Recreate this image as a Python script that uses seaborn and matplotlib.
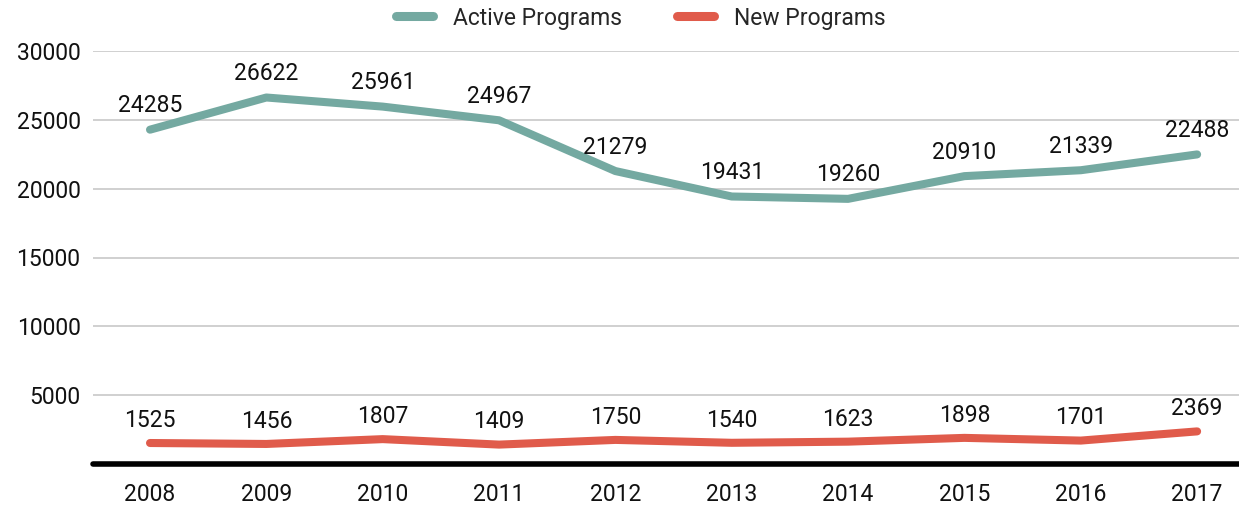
import matplotlib
matplotlib.use("Agg")
import matplotlib.pyplot as plt
import seaborn as sns
import pandas as pd

years = ["2008", "2009", "2010", "2011", "2012", "2013", "2014", "2015", "2016", "2017"]
active = [24285, 26622, 25961, 24967, 21279, 19431, 19260, 20910, 21339, 22488]
new = [1525, 1456, 1807, 1409, 1750, 1540, 1623, 1898, 1701, 2369]
series_names = ["Active Programs", "New Programs"]
yticks = [5000, 10000, 15000, 20000, 25000, 30000]

sns.set_style("white")
plt.rcParams['font.family'] = ['Roboto', 'DejaVu Sans']

FS = 16.5

df = pd.DataFrame({
    "Year": years * 2,
    "Value": active + new,
    "Series": [series_names[0]] * len(years) + [series_names[1]] * len(years),
})
df["x"] = list(range(len(years))) * 2

fig = plt.figure(figsize=(12.39, 5.08), dpi=100)
ax = fig.add_axes([93 / 1239, 1 - 464 / 508, 1 - 93 / 1239, (464 - 51) / 508])

colors = {"Active Programs": "#74a9a1", "New Programs": "#e05b4b"}
sns.lineplot(data=df, x="x", y="Value", hue="Series", palette=colors, ax=ax,
             linewidth=5.8, solid_capstyle="round", solid_joinstyle="round", legend=True)

for i, v in enumerate(active):
    ax.annotate(str(v), (i, v), xytext=(0, 9), textcoords="offset points",
                ha="center", va="bottom", fontsize=FS, color="#111111")
for i, v in enumerate(new):
    ax.annotate(str(v), (i, v), xytext=(0, 8), textcoords="offset points",
                ha="center", va="bottom", fontsize=FS, color="#111111")

ax.set_xlim(-0.49, 9.36)
ax.set_ylim(0, 30000)
ax.set_yticks(yticks)
ax.set_yticklabels([str(t) for t in yticks])
ax.set_xticks(range(len(years)))
ax.set_xticklabels(years)
ax.grid(axis="y", color="#c8c8c8", linewidth=1.2)
ax.set_axisbelow(True)
ax.axhline(0, color="black", linewidth=4, zorder=5, clip_on=False)
for s in ax.spines.values():
    s.set_visible(False)
ax.tick_params(axis="both", length=0, labelsize=FS, colors="#111111")
ax.tick_params(axis="x", pad=14)
ax.tick_params(axis="y", pad=9)
ax.set_xlabel("")
ax.set_ylabel("")

handles, labels = ax.get_legend_handles_labels()
ax.get_legend().remove()
leg = fig.legend(handles, labels, loc="center", bbox_to_anchor=(641 / 1239, 1 - 18 / 508),
                 ncol=2, frameon=False, fontsize=FS, handlelength=1.6, columnspacing=2.4,
                 handletextpad=0.9, borderaxespad=0)
for line in leg.get_lines():
    line.set_linewidth(6.5)
    line.set_solid_capstyle("round")

fig.savefig("out.png", dpi=100)
